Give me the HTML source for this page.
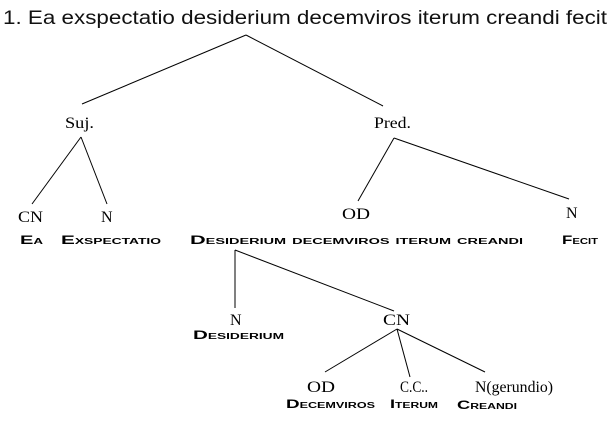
<!DOCTYPE html>
<html><head><meta charset="utf-8"><style>
html,body{margin:0;padding:0;background:#fff;}
svg{display:block;}
.t{font-family:"Liberation Serif",serif;font-size:16px;fill:#000;}
.s{font-family:"Liberation Sans",sans-serif;font-size:12px;font-weight:bold;font-variant:small-caps;fill:#000;}
</style></head><body>
<svg width="615" height="425" viewBox="0 0 615 425" xmlns="http://www.w3.org/2000/svg">
<text x="3" y="24" font-family="Liberation Sans, sans-serif" font-size="19" fill="#111" textLength="604" lengthAdjust="spacingAndGlyphs">1. Ea exspectatio  desiderium  decemviros iterum creandi  fecit</text>
<g stroke="#000" stroke-width="1" fill="none">
<line x1="246" y1="35" x2="82" y2="104"/>
<line x1="246" y1="35" x2="383" y2="106"/>
<line x1="81" y1="137" x2="32" y2="204"/>
<line x1="81" y1="137" x2="107" y2="204"/>
<line x1="394" y1="138" x2="358" y2="201"/>
<line x1="394" y1="138" x2="569" y2="199"/>
<line x1="235" y1="250" x2="235" y2="308"/>
<line x1="235" y1="250" x2="394" y2="311"/>
<line x1="397" y1="329" x2="325" y2="372"/>
<line x1="397" y1="329" x2="410" y2="377"/>
<line x1="397" y1="329" x2="485" y2="372"/>
</g>
<text class="t" x="65" y="128" textLength="29" lengthAdjust="spacingAndGlyphs">Suj.</text>
<text class="t" x="374" y="128" textLength="37" lengthAdjust="spacingAndGlyphs">Pred.</text>
<text class="t" x="18" y="222" textLength="25" lengthAdjust="spacingAndGlyphs">CN</text>
<text class="t" x="101" y="222">N</text>
<text class="t" x="342" y="219" textLength="28" lengthAdjust="spacingAndGlyphs">OD</text>
<text class="t" x="566" y="218">N</text>
<text class="s" x="20" y="244" textLength="23" lengthAdjust="spacingAndGlyphs">Ea</text>
<text class="s" x="61" y="244" textLength="100" lengthAdjust="spacingAndGlyphs">Exspectatio</text>
<text class="s" x="190" y="244" textLength="333" lengthAdjust="spacingAndGlyphs">Desiderium decemviros iterum creandi</text>
<text class="s" x="562" y="244" textLength="36" lengthAdjust="spacingAndGlyphs">Fecit</text>
<text class="t" x="230" y="325">N</text>
<text class="s" x="193" y="339" textLength="91" lengthAdjust="spacingAndGlyphs">Desiderium</text>
<text class="t" x="383" y="325" textLength="27" lengthAdjust="spacingAndGlyphs">CN</text>
<text class="t" x="307" y="392" textLength="28" lengthAdjust="spacingAndGlyphs">OD</text>
<text class="t" x="400" y="392" textLength="28" lengthAdjust="spacingAndGlyphs">C.C..</text>
<text class="t" x="475" y="392" textLength="78" lengthAdjust="spacingAndGlyphs">N(gerundio)</text>
<text class="s" x="286" y="408" textLength="89" lengthAdjust="spacingAndGlyphs">Decemviros</text>
<text class="s" x="390" y="408" textLength="48" lengthAdjust="spacingAndGlyphs">Iterum</text>
<text class="s" x="457" y="409" textLength="60" lengthAdjust="spacingAndGlyphs">Creandi</text>
</svg>
</body></html>
